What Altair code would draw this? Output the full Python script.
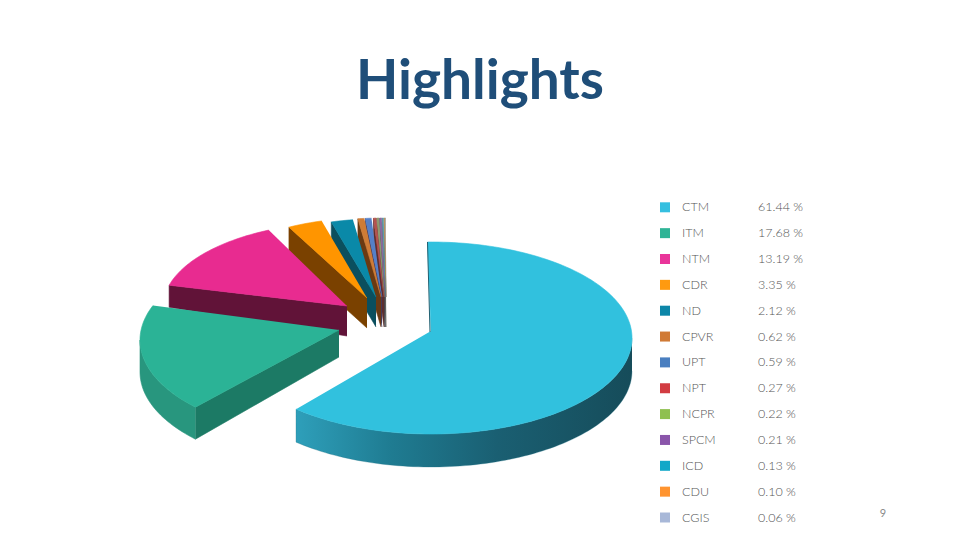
import math
import altair as alt
import pandas as pd

names = ["CTM", "ITM", "NTM", "CDR", "ND", "CPVR", "UPT", "NPT", "NCPR", "SPCM", "ICD", "CDU", "CGIS"]
shares = [61.44, 17.68, 13.19, 3.35, 2.12, 0.62, 0.59, 0.27, 0.22, 0.21, 0.13, 0.10, 0.06]
labels = ["61.44 %", "17.68 %", "13.19 %", "3.35 %", "2.12 %", "0.62 %", "0.59 %",
          "0.27 %", "0.22 %", "0.21 %", "0.13 %", "0.10 %", "0.06 %"]
top_colors = ["#31c1de", "#2bb396", "#e82b90", "#ff9500", "#0a89a8", "#cf7c36", "#5580c8",
              "#b5524f", "#8f9a70", "#8a6aa0", "#5a9aa8", "#c09a60", "#a8b0c0"]
wall_colors = ["#1c6f84", "#1c7a65", "#611338", "#7a4100", "#0b4f5e", "#6b3a12", "#453a5a",
               "#5e2e2e", "#4f4a3a", "#4a3a55", "#4a5a60", "#6a5a48", "#8a8a90"]
key_colors = ["#35bfe0", "#2fb496", "#e9359a", "#ff9a10", "#0d86a8", "#d07a35", "#4a7fc0",
              "#d23c42", "#8fc050", "#8a55aa", "#12a8c8", "#ff9430", "#a8b8d8"]

# Exploded-slice layout in page pixels: centre x, centre y, apex x, apex y, radii, depths, angle shifts
layout = {
    "CTM": (431, 338, 431, 331, 201, 96, 33, 30, -1.0, 1.0),
    "ITM": (339, 340, 339, 330, 199, 97, 32, 27, 5.0, 6.0),
    "NTM": (347, 307, 347, 306, 184, 85, 22, 30, 0.0, 2.5),
    "CDR": (367, 298, 367, 298, 168, 80, 30, 30, 0.0, 0.0),
    "ND": (376, 298, 376, 297, 166, 79, 30, 30, 0.0, 0.0),
    "CPVR": (381, 297, 381, 297, 166, 79, 30, 30, 0.0, 0.0),
    "UPT": (382, 297, 382, 297, 166, 79, 30, 30, 0.0, 0.0),
    "NPT": (384, 297, 384, 297, 166, 79, 30, 30, 0.0, 0.0),
    "NCPR": (384.5, 297, 384.5, 297, 166, 79, 30, 30, 0.0, 0.0),
    "SPCM": (385, 297, 385, 297, 166, 79, 30, 30, 0.0, 0.0),
    "ICD": (385.5, 297, 385.5, 297, 166, 79, 30, 30, 0.0, 0.0),
    "CDU": (386, 297, 386, 297, 166, 79, 30, 30, 0.0, 0.0),
    "CGIS": (386, 297, 386, 297, 166, 79, 30, 30, 0.0, 0.0),
}

W, H = 944, 522
xs = alt.Scale(domain=[8, 8 + W], range=[0, W], nice=False, zero=False)
ys = alt.Scale(domain=[8, 8 + H], range=[0, H], nice=False, zero=False)


def face(points, fill, stroke=None, sw=0.6):
    df = pd.DataFrame({"px": [p[0] for p in points], "py": [p[1] for p in points],
                       "i": list(range(len(points)))})
    return alt.Chart(df).mark_line(
        fill=fill, stroke=stroke or (fill if isinstance(fill, str) else "#1f7b90"),
        strokeWidth=sw, interpolate="linear",
    ).encode(
        x=alt.X("px:Q", scale=xs, axis=None),
        y=alt.Y("py:Q", scale=ys, axis=None),
        order="i:Q",
    )


def arc_points(geom, a0, a1):
    cx, cy, _, _, a, b, *_ = geom
    n = max(2, int(abs(a1 - a0) / 1.5) + 2)
    out = []
    for k in range(n):
        t = math.radians(a0 + (a1 - a0) * k / (n - 1))
        out.append((cx + a * math.sin(t), cy - b * math.cos(t)))
    return out


angles = []
acc = 0.0
for s in shares:
    angles.append((acc, acc + s * 3.6))
    acc += s * 3.6

layers = []
for idx in reversed(range(len(names))):
    name = names[idx]
    g = layout[name]
    cx, cy, ax, ay, a, b, d_out, d_in, off0, off1 = g
    t0, t1 = angles[idx][0] + off0, angles[idx][1] + off1
    if name == "CTM":
        arc = arc_points(g, 90, t1)
        wall = arc + [(x, y + d_out) for x, y in reversed(arc)]
        grad = alt.Gradient(
            gradient="linear", x1=1, x2=0, y1=0, y2=0,
            stops=[
                alt.GradientStop(color="#164c5a", offset=0),
                alt.GradientStop(color="#1a5f72", offset=0.4),
                alt.GradientStop(color="#1f7c92", offset=0.72),
                alt.GradientStop(color="#2e9fba", offset=1),
            ],
        )
        layers.append(face(wall, grad, stroke="#1f6f84", sw=0.3))
    else:
        tip = arc_points(g, t0, t0 + 0.01)[0]
        layers.append(face([(ax, ay), tip, (tip[0], tip[1] + d_out), (ax, ay + d_in)], wall_colors[idx]))
        if name == "ITM":
            arc = arc_points(g, t0, 270)
            layers.append(face(arc + [(x, y + d_out) for x, y in reversed(arc)], "#28967e"))
    layers.append(face([(ax, ay)] + arc_points(g, t0, t1), top_colors[idx]))
    if name == "CTM":
        tip = arc_points(g, t0, t0 + 0.01)[0]
        layers.append(face([tip, (ax - 1, ay + 1)], "#1f5f70", stroke="#1f5f70", sw=1.0))

legend = pd.DataFrame({
    "name": names, "label": labels, "color": key_colors,
    "row": list(range(len(names))),
})
legend["ly"] = 207.3 + legend["row"] * 25.85
legend["kx"] = 665
legend["nx"] = 682
legend["vx"] = 758

base = alt.Chart(legend).encode(y=alt.Y("ly:Q", scale=ys, axis=None))
layers.append(base.mark_square(size=100, opacity=1).encode(
    x=alt.X("kx:Q", scale=xs, axis=None),
    color=alt.Color("color:N", scale=None),
))
layers.append(base.mark_text(align="left", baseline="middle", font="Lato", fontSize=12.5,
                             fontWeight=300, color="#555555").encode(
    x=alt.X("nx:Q", scale=xs, axis=None), text="name:N"))
layers.append(base.mark_text(align="left", baseline="middle", font="Lato", fontSize=12.5,
                             fontWeight=300, color="#555555").encode(
    x=alt.X("vx:Q", scale=xs, axis=None), text="label:N"))

title = alt.Chart(pd.DataFrame({"t": ["Highlights"], "tx": [480], "ty": [99]})).mark_text(
    font="Lato", fontSize=55, fontWeight="bold", color="#1f4e79", align="center", baseline="alphabetic"
).encode(x=alt.X("tx:Q", scale=xs, axis=None), y=alt.Y("ty:Q", scale=ys, axis=None), text="t:N")
page = alt.Chart(pd.DataFrame({"t": ["9"], "tx": [883], "ty": [514]})).mark_text(
    font="Lato", fontSize=11, color="#8a8a8a", align="center", baseline="middle"
).encode(x=alt.X("tx:Q", scale=xs, axis=None), y=alt.Y("ty:Q", scale=ys, axis=None), text="t:N")

chart = alt.layer(*layers, title, page).properties(
    width=W, height=H, padding=0, background="#ffffff"
).configure_view(stroke=None)

chart.save("out.html", embed_options={"renderer": "svg", "actions": False})
